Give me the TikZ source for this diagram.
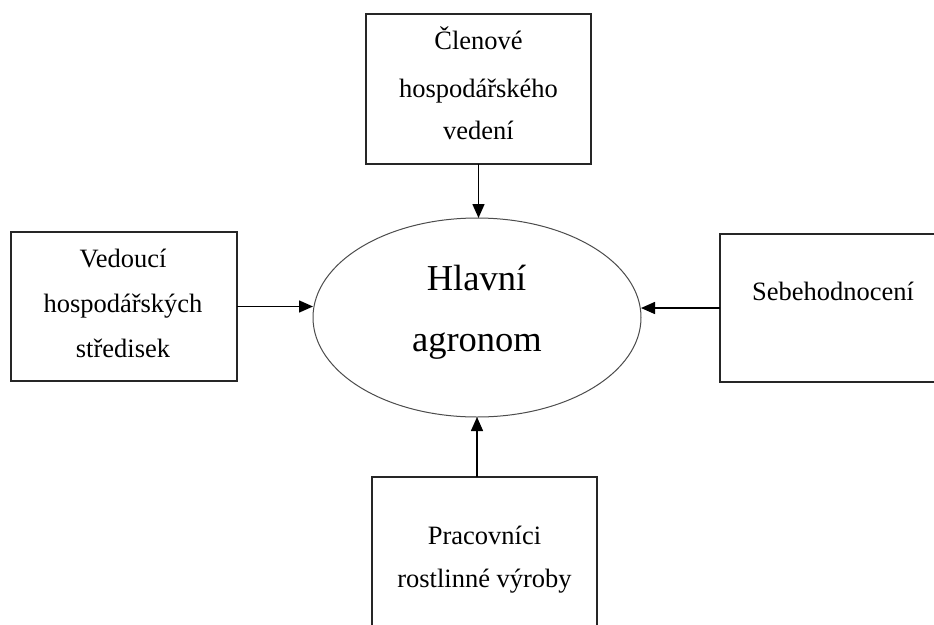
\documentclass[tikz,border=0pt]{standalone}
\usepackage{fontspec}
\setmainfont{Liberation Serif}
\usetikzlibrary{shapes.geometric,arrows.meta}
\tikzset{
  boxnode/.style={draw=black!85, line width=1.5pt, rectangle, inner sep=0pt, outer sep=0pt},
  hubnode/.style={draw=black!70, line width=1pt, ellipse, inner sep=0pt, outer sep=0pt,
    minimum width=328pt, minimum height=199pt},
  txt/.style={anchor=base, inner sep=0pt, font=\fontsize{26.5}{30}\selectfont},
  bigtxt/.style={anchor=base, inner sep=0pt, font=\fontsize{36.5}{42}\selectfont},
  arr/.style={line width=1.5pt, -{Triangle[length=14pt,width=12pt]}}
}
\begin{document}
\begin{tikzpicture}[x=1pt,y=-1pt]
\clip (0,0) rectangle (934,624);
\fill[white] (0,0) rectangle (934,624);
% boxes
\node[boxnode, minimum width=225pt, minimum height=150pt] (top) at (478.5,89) {};
\node[boxnode, minimum width=226pt, minimum height=149pt] (left) at (124,306.5) {};
\node[boxnode, minimum width=226pt, minimum height=148pt] (right) at (833,308) {};
\node[boxnode, minimum width=225pt, minimum height=170pt] (bottom) at (484.5,562) {};
\node[hubnode] (hub) at (477,317.5) {};
% texts
\node[txt] (t1) at (478.5,49) {Členové};
\node[txt] (t2) at (478.5,97) {hospodářského};
\node[txt] (t3) at (478.5,139) {vedení};
\node[txt] (l1) at (123,267) {Vedoucí};
\node[txt] (l2) at (123,312) {hospodářských};
\node[txt] (l3) at (123,357.5) {středisek};
\node[txt] (r1) at (833,300) {Sebehodnocení};
\node[txt] (b1) at (484.5,544) {Pracovníci};
\node[txt] (b2) at (484.5,587) {rostlinné výroby};
\node[bigtxt] (h1) at (476.5,290) {Hlavní};
\node[bigtxt] (h2) at (477,351) {agronom};
% arrows
\draw[arr] (top.south) -- (top.south |- hub.north);
\draw[arr] (left.east) -- (left.east -| hub.west);
\draw[arr] (right.west) -- (right.west -| hub.east);
\draw[arr] (hub.south |- bottom.north) -- (hub.south);
\end{tikzpicture}
\end{document}
